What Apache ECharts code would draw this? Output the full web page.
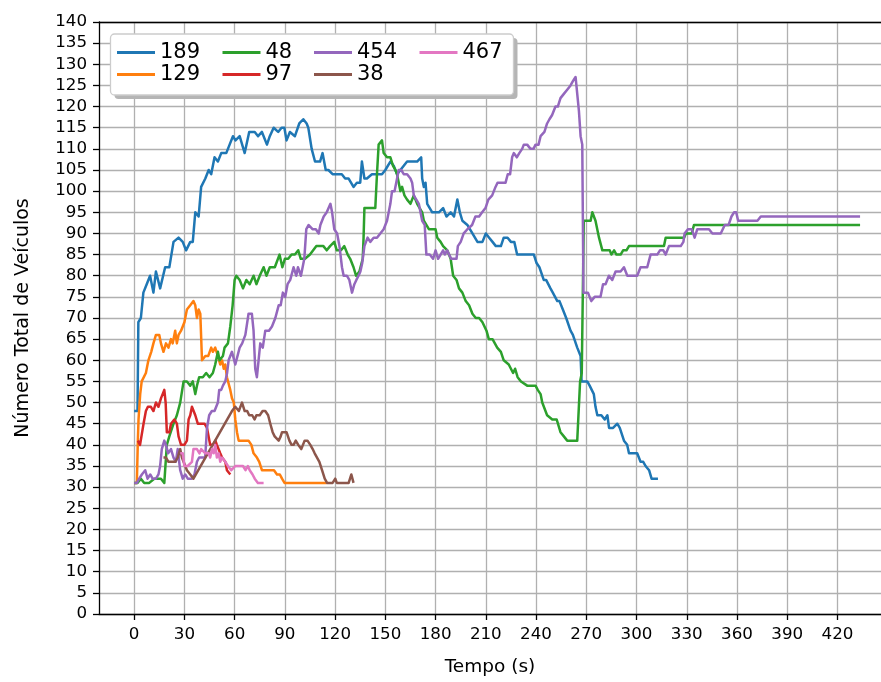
<!DOCTYPE html>
<html><head><meta charset="utf-8">
<script src="https://cdn.jsdelivr.net/npm/echarts@6/dist/echarts.min.js"></script>
<style>html,body{margin:0;padding:0;background:#fff}#c{width:881px;height:682px}</style>
</head><body><div id="c"></div>
<script>
const seriesNames = ['189','129','48','97','454','38','467'];
const seriesColors = ['#1f77b4','#ff7f0e','#2ca02c','#d62728','#9467bd','#8c564b','#e377c2'];
const xTicks = [0,30,60,90,120,150,180,210,240,270,300,330,360,390,420];

const s189 = [[0,48],[2,48],[2.5,69],[4,70],[5.5,76],[7.5,78],[9.5,80],[11.5,76],[13,81],[15.5,77],[18.5,82],[21,82],[23.5,88],[26.5,89],[29,88],[31,86],[33.5,88],[35,88],[36.5,95],[38.5,94],[40,101],[42.5,103],[44.5,105],[46,104],[48,108],[50,107],[52,109],[55,109],[57,111],[59,113],[60.5,112],[63,113],[66,109],[68.7,114],[72,114],[74,113],[76.3,114],[79.3,111],[81,113],[83.3,115],[86,114],[88,115],[89.7,115],[91,112],[93,114],[96,113],[98.6,116],[101,117],[103,116],[104,115],[106,110],[108,107],[111,107],[112.5,109],[114.4,105],[116,105],[118.5,104],[121,104],[124,104],[126,103],[128,103],[131,101],[133,102],[135,102],[136,107],[137.5,103],[139,103],[142,104],[145,104],[148,104],[150,105],[153,107],[155,106],[157,104],[159,105],[161,106],[163,107],[166,107],[169,107],[171.4,108],[172,103],[173,101],[174,102],[175,97],[178,95],[182,95],[184.5,96],[186.5,94],[189,95],[191,94],[193,98],[194.5,95],[196,93],[199,92],[202,90],[205,88],[208,88],[210,90],[212,89],[214,88],[216,87],[219,87],[220.7,89],[223,89],[225,88],[227,88],[228.7,85],[238.7,85],[240.3,83],[242,82],[244.6,79],[246,79],[248.6,77],[250,76],[252.7,74],[254,74],[256,72],[258,70],[260.6,67],[262,66],[264.6,63],[266.6,61],[267.2,55],[270.6,55],[272,54],[274.5,52],[275.5,49],[276.6,47],[279,47],[281,46],[282.6,47],[283.6,44],[286,44],[288.5,45],[290,44],[292.5,41],[294.4,40],[295.5,38],[300.4,38],[302.4,36],[304,36],[305.4,35],[307.5,34],[309,32],[312.8,32]];

const s129 = [[0,31],[1.6,31],[2.2,41],[2.6,46],[3.6,52],[4.5,55],[5.6,55],[7,57],[8.5,60],[10.2,62],[11.5,64],[13,66],[15,66],[16,64],[17.5,62],[19,64],[20.5,63],[22,65],[23,64],[24.5,67],[25.5,64],[26.5,66],[28,67],[30,69],[31.5,72],[33.5,73],[35.4,74],[36.5,73],[37.5,70],[38.5,72],[39.5,71],[40.5,60],[42.5,61],[44.2,61],[46,63],[47,62],[48.4,63],[50,61],[51.4,59],[52.5,60],[53.5,58],[54.4,59],[55.4,56],[57.4,53],[58.4,51],[59.5,50],[60.4,46],[61.4,43],[62.4,41],[68.3,41],[70,40],[71.3,38],[73.3,37],[74.7,36],[76.3,34],[83.5,34],[85.3,33],[87,33],[88.3,32],[89.8,31],[115,31]];

const s48 = [[0,31],[2,31],[4,32],[6,31],[9,31],[12,32],[16,32],[18,31],[19.5,40],[21,42],[23.5,45],[25.5,47],[27.5,50],[29.5,55],[31.5,55],[33.5,54],[35,55],[36.5,52],[37.5,54],[38.8,56],[41,56],[43,57],[45,56],[47,57],[48.4,59],[50,62],[51,60],[53,61],[54,63],[56,64],[57.4,68],[58.8,73],[60,79],[61,80],[63,79],[65,77],[67,79],[69,78],[71.3,80],[73,78],[75,80],[77.3,82],[79,80],[81,82],[84,82],[86.8,85],[88.5,82],[90,84],[92,84],[94,85],[96,85],[98,86],[99.5,84],[102,84],[105,85],[108.8,87],[111,87],[113,87],[115,86],[117,87],[119.5,88],[121,86],[123.5,86],[125.5,87],[127.5,85],[129,84],[131,82],[132.5,80],[134.5,81],[136.5,84],[137,89],[137.5,96],[140,96],[142.6,96],[144,96],[145,104],[146,111],[148,112],[149,109],[151,108],[153,108],[154.6,106],[156,105],[157,104],[159,100],[160,101],[161.4,99],[163,98],[165,97],[167,99],[169,97],[172,95],[173,93],[176,91],[178,91],[180,91],[181,89],[183,88],[184.5,87],[187,86],[189,84],[190.5,80],[192.5,79],[194,77],[196,76],[198,74],[200,73],[202,71],[204,70],[206,70],[208,69],[210.4,67],[211.8,65],[214,65],[216.8,63],[219,62],[220.7,60],[223.7,59],[225,58],[226.3,57],[227.5,58],[229,56],[231,55],[234.7,54],[239.7,54],[241,53],[242.7,52],[243.7,50],[246.6,47],[249.7,46],[252.3,46],[254.6,43],[256.6,42],[258.6,41],[264.6,41],[266.3,55],[267.3,57],[268.5,93],[272.6,93],[273.6,95],[275.5,93],[277.6,89],[279.6,86],[282,86],[284,86],[285,85],[286.6,86],[288,85],[290.5,85],[292,86],[294,86],[295.5,87],[316.4,87],[317.4,89],[328.4,89],[329.5,90],[333,90],[334.3,92],[433.5,92]];

const s97 = [[2.2,41],[3.5,40],[4.6,40],[5.6,45],[7,48],[8.2,49],[10,49],[11.5,48],[13,50],[14.5,49],[16,51],[17,52],[18,53],[18.8,50],[19.5,43],[21,43],[22,45],[24,46],[25.5,45],[26.5,42],[28,40],[30,40],[31.5,41],[32.5,46],[33.5,47],[34.5,49],[35.5,48],[36.5,47],[38,45],[40,45],[42,45],[43.5,44],[45.4,40],[47,40],[48.5,41],[49.4,40],[51.4,38],[52.5,37],[54.4,36],[55.4,34],[57.4,33]];

const s454 = [[0,31],[1.6,31],[3,32],[4.6,33],[6.6,34],[8,32],[9.6,33],[11,32],[13,32],[14.5,33],[15.5,35],[16.5,39],[18,41],[19,40],[20.3,38],[22,39],[23.5,37],[24.9,36],[26,39],[27.5,34],[29,32],[30.5,33],[32,32],[34.4,32],[36,33],[37.5,36],[38.8,37],[40.5,37],[42.4,37],[43.5,44],[44.8,47],[46.4,48],[48,48],[50,50],[50.8,53],[52,53],[53,54],[54.4,55],[55.5,57],[56.4,60],[58.4,62],[60.4,59],[63,63],[64.5,64],[66.4,66],[68.3,71],[70.3,71],[71.3,67],[72.3,58],[73.3,56],[74.3,60],[75.3,64],[76.8,63],[78.3,67],[80.5,67],[82.3,68],[84.3,70],[86.3,73],[87.5,73],[88.8,76],[90.2,75],[91.6,78],[93.2,79],[95.2,82],[96.8,80],[97.8,82],[99.6,80],[100.6,80],[101.6,84],[102.8,91],[104.2,92],[106.5,91],[108.5,91],[110.2,90],[111.2,92],[113.2,94],[115,95],[117.2,97],[118.2,95],[119.5,91],[121.2,90],[122.6,87],[124.1,82],[125.1,80],[127,80],[128.5,79],[130.1,76],[131.5,78],[132.7,79],[134,80],[135.1,81],[136.2,83],[137.5,87],[139.4,89],[141,88],[143,89],[145,89],[147,90],[149,91],[150,92],[151,93],[152,95],[153,97],[154,100],[155.5,100],[157,103],[158,105],[159.5,105],[161,104],[163,104],[165,103],[166,102],[167,99],[168.5,98],[170,97],[171,97],[172,93],[173.5,92],[174.5,85],[176.5,85],[178.5,84],[180,86],[181.5,84],[183,85],[184.5,86],[185.5,85],[186.9,86],[189.3,84],[192.5,84],[193.3,87],[195,88],[196.8,90],[199,91],[201.8,92],[203.8,94],[206,94],[207.8,95],[209.8,96],[211.5,98],[213.8,99],[215.8,101],[217,102],[218.8,102],[221.8,102],[223.1,104],[224.5,104],[225.7,108],[226.7,109],[228.5,108],[230,109],[231.7,110],[232.7,111],[234.7,111],[236.7,110],[238.5,110],[239.7,111],[241.5,111],[242.7,113],[245,114],[246.6,116],[248,117],[249.6,118],[251.6,120],[253,120],[254.6,122],[256.6,123],[258.6,124],[260.6,125],[262,126],[263.6,127],[264.5,127],[265.6,119],[266.6,113],[267.6,111],[268.3,76],[271,76],[273,74],[275,75],[278.5,75],[280,78],[281.5,78],[283.5,80],[285.5,79],[287.5,81],[290.5,81],[292.5,82],[293.5,81],[294.5,80],[300.4,80],[302.4,82],[306.4,82],[308.4,85],[312.4,85],[314,86],[316,86],[317.4,85],[319.4,87],[326.4,87],[328,88],[328.7,90],[330.7,91],[333,91],[334.7,89],[336.3,91],[343.3,91],[345.3,90],[350.3,90],[352.7,92],[355,92],[356.7,94],[358.3,95],[359.5,95],[360.7,93],[372.2,93],[374.2,94],[433.5,94]];

const s38 = [[17.5,37],[19,37],[20.5,36],[24.5,36],[26,37],[27.5,39],[28.5,37],[29.5,36],[31.5,34],[33.5,33],[35.4,32],[58.4,48],[60.4,49],[62.5,48],[64.4,50],[66,48],[67.5,48],[68.7,47],[70.5,47],[71.9,46],[73,47],[75,47],[76.7,48],[78.3,48],[80,47],[81.3,45],[82.7,43],[83.9,42],[85,42],[86.3,41],[87.5,42],[88.3,43],[91,43],[92.7,41],[94,40],[95.2,40],[96.5,41],[98,40],[99.8,39],[101.8,41],[103.5,41],[105.2,40],[106.6,39],[107.8,38],[109.2,37],[110.6,36],[112.2,34],[113.8,32],[115.2,31],[118.5,31],[120.1,32],[121,31],[128.1,31],[129.7,33],[131,31]];

const s467 = [[27.5,38],[29,38],[30,35],[32,35],[34.5,36],[35.4,39],[37.5,39],[39,38],[40,39],[42.5,38],[44.5,38],[45.4,37],[46.5,39],[47.5,38],[48.4,40],[49.4,37],[50.5,38],[51.4,36],[52.5,37],[54.4,36],[56,35],[57,35],[58,34],[60.4,35],[63,35],[65,35],[66.5,34],[67.9,35],[69,34],[70.7,33],[72,32],[73.9,31],[77.3,31]];

const seriesData = [s189, s129, s48, s97, s454, s38, s467];

const FONT = 'DejaVu Sans';
const chart = echarts.init(document.getElementById('c'), null, {renderer: 'canvas'});

const legendCols = [['189','129'],['48','97'],['454','38'],['467']];
const legendLefts = [117, 222.5, 314, 419.5];

chart.setOption({
  animation: false,
  backgroundColor: '#fff',
  grid: {left: 99, right: 0, top: 22, bottom: 66},
  xAxis: [{
    type: 'value', min: -21, max: 446,
    name: 'Tempo (s)', nameLocation: 'middle', nameGap: 44,
    nameTextStyle: {fontFamily: FONT, fontSize: 18.5, color: '#000'},
    axisLine: {show: true, onZero: false, lineStyle: {color: '#000', width: 1.3}},
    axisTick: {show: true, length: 6, customValues: xTicks, lineStyle: {color: '#000', width: 1.3}},
    axisLabel: {customValues: xTicks, margin: 12, fontFamily: FONT, fontSize: 16.7, color: '#000'},
    splitLine: {show: true, lineStyle: {color: '#b0b0b0', width: 1.3}}
  }, {
    type: 'value', min: -21, max: 446, position: 'top',
    axisLine: {show: true, onZero: false, lineStyle: {color: '#000', width: 1.3}},
    axisTick: {show: false}, axisLabel: {show: false}, splitLine: {show: false}
  }],
  yAxis: {
    type: 'value', min: 0, max: 140, interval: 5,
    name: 'Número Total de Veículos', nameLocation: 'middle', nameGap: 66, nameRotate: 90,
    nameTextStyle: {fontFamily: FONT, fontSize: 19, color: '#000'},
    axisLine: {show: true, onZero: false, lineStyle: {color: '#000', width: 1.3}},
    axisTick: {show: true, length: 6, lineStyle: {color: '#000', width: 1.3}},
    axisLabel: {margin: 12, fontFamily: FONT, fontSize: 16.7, color: '#000'},
    splitLine: {show: true, lineStyle: {color: '#b0b0b0', width: 1.3}}
  },
  graphic: [
    {type: 'rect', z: 3, shape: {x: 114.5, y: 38, width: 403, height: 61, r: 4}, style: {fill: '#b5b5b5', stroke: null}},
    {type: 'rect', z: 3, shape: {x: 110.5, y: 34, width: 403, height: 61, r: 4}, style: {fill: '#fff', stroke: '#cccccc', lineWidth: 1.3}}
  ],
  legend: legendCols.map((names, i) => ({
    data: names, orient: 'vertical', left: legendLefts[i], top: 42, z: 5,
    itemWidth: 38, itemHeight: 3, itemGap: 1, icon: 'rect',
    textStyle: {fontFamily: FONT, fontSize: 21, lineHeight: 21, color: '#000'},
    padding: 0, selectedMode: false
  })),
  series: seriesNames.map((n, i) => ({
    name: n, type: 'line', data: seriesData[i], showSymbol: false, symbol: 'none',
    color: seriesColors[i], z: 2 + i * 0.01,
    lineStyle: {width: 2.5, color: seriesColors[i], join: 'round', cap: 'butt'}
  }))
});
</script></body></html>
